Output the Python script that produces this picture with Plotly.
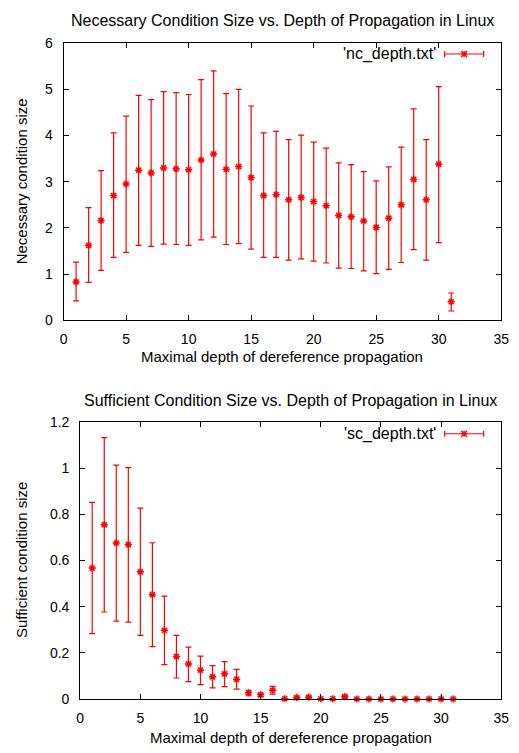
import plotly.graph_objects as go

# ---- data ----
depth_nc = list(range(1, 32))
nc_mean = [0.83, 1.62, 2.16, 2.70, 2.95, 3.25, 3.19, 3.30, 3.28, 3.26,
           3.47, 3.60, 3.27, 3.33, 3.09, 2.70, 2.72, 2.61, 2.66, 2.57,
           2.48, 2.27, 2.24, 2.15, 2.01, 2.21, 2.50, 3.05, 2.61, 3.38, 0.40]
nc_high = [1.26, 2.44, 3.24, 4.06, 4.42, 4.87, 4.78, 4.95, 4.93, 4.89,
           5.21, 5.40, 4.91, 5.00, 4.64, 4.06, 4.09, 3.91, 4.01, 3.86,
           3.73, 3.41, 3.37, 3.22, 3.02, 3.32, 3.75, 4.58, 3.91, 5.06, 0.59]
nc_low = [0.42, 0.82, 1.08, 1.36, 1.47, 1.62, 1.60, 1.65, 1.64, 1.62,
          1.74, 1.80, 1.64, 1.66, 1.54, 1.36, 1.36, 1.30, 1.33, 1.28,
          1.24, 1.13, 1.12, 1.07, 1.01, 1.10, 1.25, 1.53, 1.30, 1.68, 0.20]

depth_sc = list(range(1, 32))
sc_mean = [0.567, 0.755, 0.676, 0.669, 0.551, 0.452, 0.298, 0.184, 0.152, 0.125,
           0.096, 0.109, 0.085, 0.027, 0.018, 0.038, 0.001, 0.006, 0.008, 0.001,
           0.001, 0.010, 0.0, 0.0, 0.0, 0.0, 0.0, 0.0, 0.0, 0.0, 0.0]
sc_high = [0.852, 1.132, 1.013, 1.002, 0.827, 0.677, 0.446, 0.276, 0.225, 0.186,
           0.145, 0.162, 0.128, 0.038, 0.025, 0.055, 0.002, 0.009, 0.012, 0.002,
           0.002, 0.015, 0.0, 0.0, 0.0, 0.0, 0.0, 0.0, 0.0, 0.0, 0.0]
sc_low = [0.283, 0.377, 0.337, 0.333, 0.276, 0.227, 0.149, 0.091, 0.075, 0.062,
          0.048, 0.054, 0.043, 0.014, 0.010, 0.021, 0.0, 0.003, 0.004, 0.0,
          0.0, 0.005, 0.0, 0.0, 0.0, 0.0, 0.0, 0.0, 0.0, 0.0, 0.0]

x_ticks = [0, 5, 10, 15, 20, 25, 30, 35]
nc_yticks = [0, 1, 2, 3, 4, 5, 6]
sc_yticks = [0, 0.2, 0.4, 0.6, 0.8, 1.0, 1.2]
sc_ytick_text = ["0", "0.2", "0.4", "0.6", "0.8", "1", "1.2"]

titles = ["Necessary Condition Size vs. Depth of Propagation in Linux",
          "Sufficient Condition Size vs. Depth of Propagation in Linux"]
xlabel = "Maximal depth of dereference propagation"
ylabels = ["Necessary condition size", "Sufficient condition size"]
legend_names = ["'nc_depth.txt'", "'sc_depth.txt'"]

# ---- layout constants (pixels) ----
W, H = 519, 753
FONT = "Liberation Sans, Arial, sans-serif"
RED = "#ff0000"


def px(x):
    return x / W


def py(y):
    return 1 - y / H


boxes = [  # left, right, top, bottom in px
    (61, 509, 36, 319),
    (78, 509, 423, 706),
]

fig = go.Figure()

series = [
    (depth_nc, nc_mean, nc_high, nc_low, "x", "y"),
    (depth_sc, sc_mean, sc_high, sc_low, "x2", "y2"),
]
for xs, m, hi, lo, xa, ya in series:
    fig.add_trace(go.Scatter(
        x=xs, y=m, mode="markers", xaxis=xa, yaxis=ya, showlegend=False,
        marker=dict(symbol="asterisk-open", size=6, color=RED,
                    line=dict(color=RED, width=1.5)),
        error_y=dict(type="data", symmetric=False,
                     array=[h - v for h, v in zip(hi, m)],
                     arrayminus=[v - l for v, l in zip(m, lo)],
                     color=RED, thickness=1.2, width=3),
        cliponaxis=False, hoverinfo="skip",
    ))

axis_common = dict(
    showline=True, linecolor="black", linewidth=1, mirror="allticks",
    ticks="inside", ticklen=5, tickcolor="black", showgrid=False,
    zeroline=False, tickfont=dict(family=FONT, size=14, color="black"),
)

fig.update_layout(
    width=W, height=H, margin=dict(l=0, r=0, t=0, b=0),
    paper_bgcolor="white", plot_bgcolor="white", showlegend=False,
    font=dict(family=FONT, size=15, color="black"),
    xaxis=dict(domain=[px(61), px(509)], range=[0, 35], tickvals=x_ticks,
               anchor="y", ticklabelstandoff=6, **axis_common),
    yaxis=dict(domain=[py(319), py(36)], range=[0, 6], tickvals=nc_yticks,
               anchor="x", ticklabelstandoff=7, **axis_common),
    xaxis2=dict(domain=[px(78), px(509)], range=[0, 35], tickvals=x_ticks,
                anchor="y2", ticklabelstandoff=6, **axis_common),
    yaxis2=dict(domain=[py(706), py(423)], range=[0, 1.2], tickvals=sc_yticks,
                ticktext=sc_ytick_text, anchor="x2", ticklabelstandoff=7,
                **axis_common),
)

annotations = []
shapes = []
title_y = [13, 401]
xlab_y = [356, 745]
leg_y = [47, 435]
for i, (l, r, t, b) in enumerate(boxes):
    cx = (l + r) / 2
    annotations.append(dict(text=titles[i], x=px(cx), y=py(title_y[i]),
                            xref="paper", yref="paper", showarrow=False,
                            xanchor="center", yanchor="middle",
                            font=dict(size=16)))
    annotations.append(dict(text=xlabel, x=px(cx), y=py(xlab_y[i]),
                            xref="paper", yref="paper", showarrow=False,
                            xanchor="center", yanchor="middle",
                            font=dict(size=15)))
    annotations.append(dict(text=ylabels[i], x=px(18), y=py((t + b) / 2),
                            xref="paper", yref="paper", showarrow=False,
                            textangle=-90, xanchor="center", yanchor="middle",
                            font=dict(size=15)))
    # legend (gnuplot style: text then sample on the right)
    ly = leg_y[i]
    annotations.append(dict(text=legend_names[i], x=px(444), y=py(ly),
                            xref="paper", yref="paper", showarrow=False,
                            xanchor="right", yanchor="middle",
                            font=dict(size=16)))
    sx0, sx1, sm = 451, 491, 471
    lw = dict(color=RED, width=1.2)
    shapes.append(dict(type="line", xref="paper", yref="paper",
                       x0=px(sx0), x1=px(sx1), y0=py(ly), y1=py(ly), line=lw))
    for sx in (sx0, sx1):
        shapes.append(dict(type="line", xref="paper", yref="paper",
                           x0=px(sx), x1=px(sx), y0=py(ly - 3), y1=py(ly + 3),
                           line=lw))
    d = 3
    for dx0, dy0, dx1, dy1 in [(-d, 0, d, 0), (0, -d, 0, d),
                               (-d, -d, d, d), (-d, d, d, -d)]:
        shapes.append(dict(type="line", xref="paper", yref="paper",
                           x0=px(sm + dx0), x1=px(sm + dx1),
                           y0=py(ly + dy0), y1=py(ly + dy1),
                           line=dict(color=RED, width=1.4)))

fig.update_layout(annotations=annotations, shapes=shapes)

fig.write_html("out.html",
               config={"displayModeBar": False, "staticPlot": True},
               post_script="document.body.style.margin='0';"
                           "document.body.style.overflow='hidden';")
